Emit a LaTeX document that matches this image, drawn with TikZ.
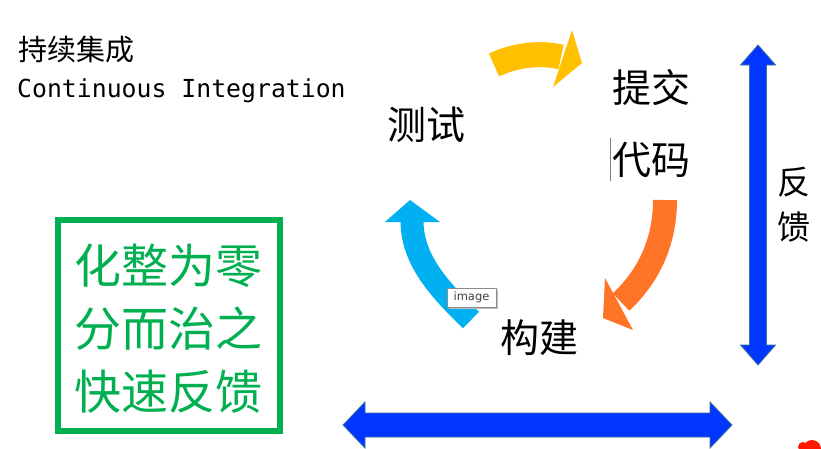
\documentclass[tikz,border=0pt]{standalone}
\usepackage{fontspec}
\usepackage{xcolor}
\setmainfont{Noto Sans CJK SC}
\newfontfamily\monofont{DejaVu Sans Mono}
\newfontfamily\uifont{DejaVu Sans}
\definecolor{ciyellow}{HTML}{FFC000}
\definecolor{ciorange}{HTML}{FF7427}
\definecolor{ciblue}{HTML}{00B0F0}
\definecolor{fbblue}{HTML}{0036FF}
\definecolor{fbedge}{HTML}{41719C}
\definecolor{cigreen}{HTML}{00B050}
\newcommand{\fsz}[1]{\fontsize{#1}{#1}\selectfont}

\begin{document}
\begin{tikzpicture}[x=1pt,y=-1pt,
  stage/.style={inner sep=0pt,font=\fsz{39}},
  fbarrow/.style={fill=fbblue,draw=fbedge,line width=0.8pt,line join=miter}]
  \useasboundingbox[fill=white] (0,0) rectangle (821,448);

  % title
  \node[inner sep=0pt,anchor=west,font=\fsz{29}] (title) at (18,50) {持续集成};
  \node[inner sep=0pt,anchor=west,font=\monofont\fsz{24.8}] (subtitle) at (17,91) {Continuous Integration};

  % the four stages
  \node[stage] (commit) at (651,88) {提交};
  \node[stage] (code) at (651,160) {代码};
  \node[stage] (build) at (539,338) {构建};
  \node[stage] (test) at (426,125) {测试};
  \draw[gray,line width=1pt] (610,138) -- (610,181);

  % yellow: test -> commit
  \draw[ciyellow,line width=25pt] (494,65) .. controls (515,55) and (540,52) .. (561,57);
  \fill[ciyellow] (572,30) -- (582,63) -- (553,87) -- cycle;

  % orange: code -> build
  \draw[ciorange,line width=24pt] (665,200) .. controls (665,240) and (650,275) .. (621,302);
  \fill[ciorange] (605,278) -- (603,318) -- (633,330) -- cycle;

  % blue: build -> test
  \draw[ciblue,line width=23pt] (471,320) .. controls (440,290) and (412,260) .. (412,221);
  \fill[ciblue] (385,222) -- (410,200) -- (440,222) -- cycle;

  % tooltip
  \fill[black!25] (449,290) rectangle (498,309);
  \node[draw=black!45,fill=white,line width=0.8pt,minimum width=49pt,minimum height=19pt,
    inner sep=0pt,font=\uifont\fsz{11.5},text=black!75] (tip) at (471.5,297.5) {image};

  % feedback arrows
  \draw[fbarrow] (758,45) -- (775.5,65) -- (766.5,65) -- (766.5,345) -- (775.5,345)
    -- (758,365) -- (740.5,345) -- (749.5,345) -- (749.5,65) -- (740.5,65) -- cycle;
  \node[inner sep=0pt,font=\fsz{33},align=center] (feedback) at (794,205)
    {反\\[12pt]馈};
  \draw[fbarrow] (343,425) -- (365,402) -- (365,413) -- (710,413) -- (710,402)
    -- (732,425) -- (710,448) -- (710,437) -- (365,437) -- (365,448) -- cycle;

  % green box
  \draw[cigreen,line width=6pt] (58,220) rectangle (280,431);
  \node[inner sep=0pt,text=cigreen,font=\fsz{47},align=center] (motto) at (168,329)
    {化整为零\\[16pt]分而治之\\[16pt]快速反馈};

  % corner mark
  \fill[red!80!orange] (812,449) circle (9);
  \fill[red!80!orange] (803,447) circle (5);
\end{tikzpicture}
\end{document}
